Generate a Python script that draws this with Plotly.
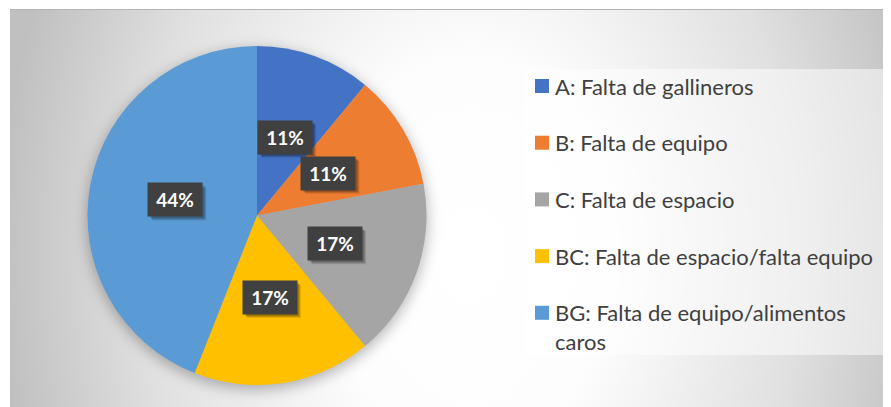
import math
import base64
import textwrap
import plotly.graph_objects as go

# ---------------- data ----------------
categories = [
    "A: Falta de gallineros",
    "B: Falta de equipo",
    "C: Falta de espacio",
    "BC: Falta de espacio/falta equipo",
    "BG: Falta de equipo/alimentos caros",
]
values = [11, 11, 17, 17, 44]
colors = ["#4472C4", "#ED7D31", "#A5A5A5", "#FFC000", "#5B9BD5"]

# ---------------- layout constants (window pixel coords) ----------------
W, H = 891, 407
OFF = 8  # page body margin
FRAME_X0, FRAME_Y0 = 10, 9
PIE_CX, PIE_CY, PIE_R = 257, 215.5, 169.5
LABEL_R = 0.49
BOX_W, BOX_H = 54, 33
FONT = "Lato, Carlito, Calibri, 'Noto Sans', sans-serif"

def px_x(x):
    return (x - OFF) / W

def px_y(y):
    return 1 - (y - OFF) / H

# ---------------- background gradient (svg) ----------------
fw, fh = W - FRAME_X0 + OFF, H - FRAME_Y0 + OFF
scx, scy = PIE_CX - FRAME_X0, PIE_CY - FRAME_Y0
gcx, gcy = 470 - FRAME_X0, 255 - FRAME_Y0
svg = f"""<svg xmlns='http://www.w3.org/2000/svg' width='{fw}' height='{fh}' viewBox='0 0 {fw} {fh}' preserveAspectRatio='none'>
<defs>
<radialGradient id='g' gradientUnits='userSpaceOnUse' cx='{gcx}' cy='{gcy}' r='470' gradientTransform='translate({gcx} {gcy}) scale(1 1.4) translate({-gcx} {-gcy})'>
<stop offset='0' stop-color='#ffffff'/>
<stop offset='0.3' stop-color='#fdfdfd'/>
<stop offset='0.7' stop-color='#e0e0e0'/>
<stop offset='1' stop-color='#c0c0c0'/>
</radialGradient>
<filter id='b' x='-30%' y='-30%' width='160%' height='160%'><feGaussianBlur stdDeviation='7'/></filter>
</defs>
<rect x='0' y='0' width='{fw}' height='{fh}' fill='url(#g)'/>
<line x1='0' y1='0.5' x2='{fw}' y2='0.5' stroke='#b4b4b4' stroke-width='1'/>
<circle cx='{scx}' cy='{scy + 4}' r='{PIE_R + 1}' fill='#000000' fill-opacity='0.28' filter='url(#b)'/>
</svg>"""
svg_uri = "data:image/svg+xml;base64," + base64.b64encode(svg.encode()).decode()

fig = go.Figure()

fig.add_trace(go.Pie(
    labels=categories,
    values=values,
    marker=dict(colors=colors, line=dict(width=0)),
    sort=False,
    direction="clockwise",
    rotation=0,
    textinfo="none",
    hovertemplate="%{label}: %{percent}<extra></extra>",
    showlegend=False,
    domain=dict(
        x=[px_x(PIE_CX - PIE_R), px_x(PIE_CX + PIE_R)],
        y=[px_y(PIE_CY + PIE_R), px_y(PIE_CY - PIE_R)],
    ),
))

# ---------------- data labels ----------------
total = sum(values)
annotations = []
shapes = []
cum = 0
for v in values:
    mid = (cum + v / 2) / total * 2 * math.pi
    cum += v
    lx = PIE_CX + LABEL_R * PIE_R * math.sin(mid)
    ly = PIE_CY - LABEL_R * PIE_R * math.cos(mid)
    # soft drop shadow under the label box
    for d, a in ((4, 0.10), (3, 0.14), (2, 0.18)):
        shapes.append(dict(
            type="rect", xref="paper", yref="paper", layer="above",
            x0=px_x(lx - BOX_W / 2 + d), x1=px_x(lx + BOX_W / 2 + d),
            y0=px_y(ly + BOX_H / 2 + d), y1=px_y(ly - BOX_H / 2 + d),
            fillcolor=f"rgba(0,0,0,{a})", line=dict(width=0),
        ))
    annotations.append(dict(
        x=px_x(lx), y=px_y(ly), xref="paper", yref="paper",
        text=f"<b>{round(v / total * 100)}%</b>",
        showarrow=False,
        font=dict(family=FONT, size=19, color="#ffffff"),
        bgcolor="#404040",
        width=BOX_W, height=BOX_H,
        borderpad=0,
        xanchor="center", yanchor="middle",
    ))

# ---------------- legend (drawn) ----------------
shapes.append(dict(
    type="rect", xref="paper", yref="paper", layer="below",
    x0=px_x(526), x1=px_x(883), y0=px_y(355), y1=px_y(69),
    fillcolor="rgba(255,255,255,0.5)", line=dict(width=0),
))
LEG_Y0, LEG_STEP, LEG_LINE = 86, 56.7, 29
for i, (cat, col) in enumerate(zip(categories, colors)):
    yc = LEG_Y0 + i * LEG_STEP
    shapes.append(dict(
        type="rect", xref="paper", yref="paper", layer="below",
        x0=px_x(535), x1=px_x(549), y0=px_y(yc + 7), y1=px_y(yc - 7),
        fillcolor=col, line=dict(width=0),
    ))
    for j, line in enumerate(textwrap.wrap(cat, 33)):
        annotations.append(dict(
            x=px_x(553), y=px_y(yc + j * LEG_LINE), xref="paper", yref="paper",
            text=line, showarrow=False,
            font=dict(family=FONT, size=22, color="#404040"),
            xanchor="left", yanchor="middle",
        ))

fig.update_layout(
    width=W, height=H,
    margin=dict(l=0, r=0, t=0, b=0),
    paper_bgcolor="#ffffff",
    plot_bgcolor="#ffffff",
    showlegend=False,
    shapes=shapes,
    annotations=annotations,
    images=[dict(
        source=svg_uri, xref="paper", yref="paper",
        x=px_x(FRAME_X0), y=px_y(FRAME_Y0),
        sizex=fw / W, sizey=fh / H,
        xanchor="left", yanchor="top",
        sizing="stretch", layer="below",
    )],
)

fig.write_html("out.html")
